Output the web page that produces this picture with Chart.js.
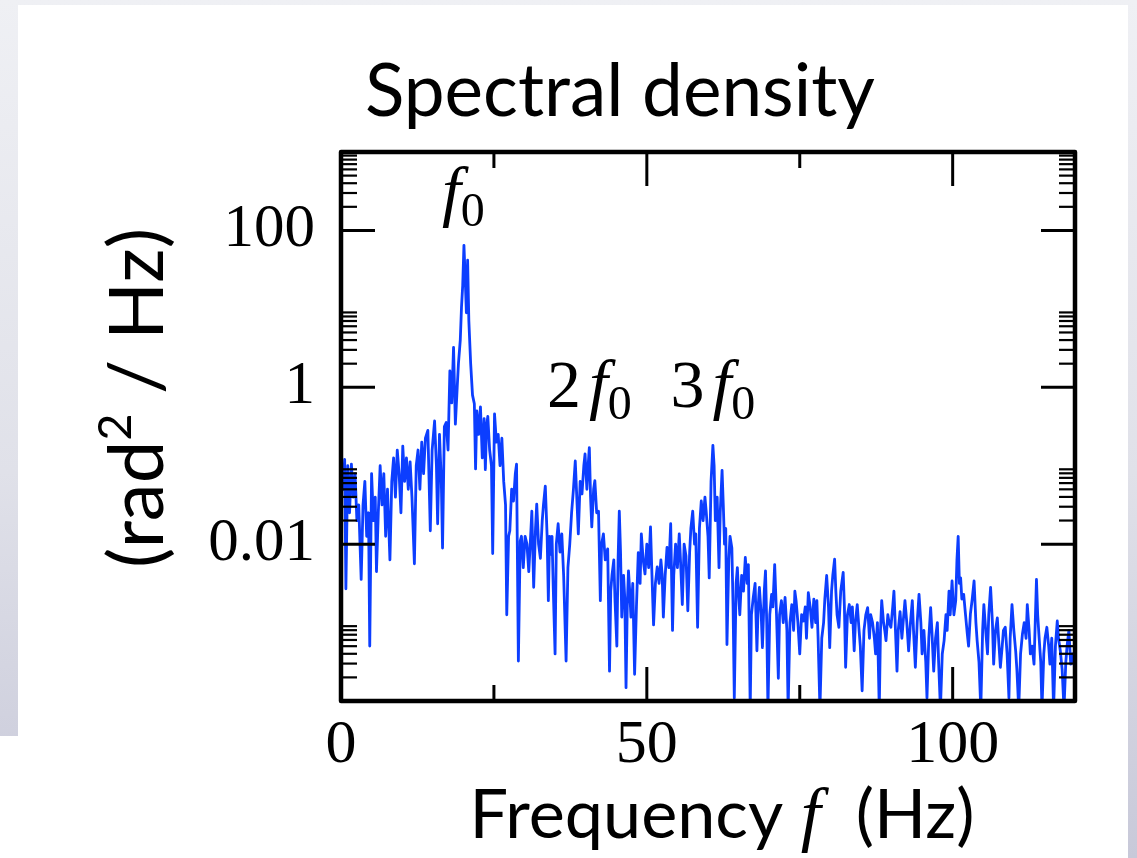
<!DOCTYPE html>
<html>
<head>
<meta charset="utf-8">
<title>Spectral density</title>
<script src="https://cdn.jsdelivr.net/npm/chart.js@4.4.1/dist/chart.umd.min.js"></script>
<style>
  html, body { margin: 0; padding: 0; width: 1137px; height: 858px; overflow: hidden; }
  body { position: relative; background: linear-gradient(to bottom, #eff0f4 0%, #e0e1e9 55%, #c8c9d9 100%); }
  #sheet { position: absolute; left: 18px; top: 5px; width: 1110px; height: 853px; background: #ffffff; }
  #sheetFoot { position: absolute; left: 0; top: 736px; width: 18px; height: 122px; background: #ffffff; }
  #chart { position: absolute; left: 0; top: 0; }
</style>
</head>
<body>
<div id="sheet"></div>
<div id="sheetFoot"></div>
<canvas id="chart" width="1137" height="858"></canvas>
<script>
// Frequency samples (Hz)
const freqHz = [
  0.0, 0.3, 0.6, 0.8, 1.1, 1.4, 1.7, 2.0, 2.3, 2.6,
  2.9, 3.3, 3.6, 3.9, 4.2, 4.5, 4.7, 5.0, 5.3, 5.6,
  5.8, 6.1, 6.4, 6.7, 7.0, 7.3, 7.6, 8.0, 8.3, 8.6,
  8.9, 9.2, 9.5, 9.8, 10.1, 10.4, 10.7, 11.0, 11.3, 11.6,
  12.0, 12.3, 12.6, 12.9, 13.2, 13.5, 13.8, 14.2, 14.6, 14.9,
  15.3, 15.6, 15.8, 16.1, 16.4, 16.6, 16.9, 17.2, 17.5, 17.8,
  18.1, 18.4, 18.7, 19.0, 19.2, 19.5, 19.7, 19.9, 20.1, 20.3,
  20.5, 20.7, 20.9, 21.2, 21.5, 21.8, 22.0, 22.2, 22.5, 22.8,
  23.1, 23.4, 23.6, 23.8, 24.0, 24.3, 24.6, 24.8, 25.1, 25.4,
  25.7, 26.0, 26.3, 26.6, 26.9, 27.1, 27.4, 27.6, 27.9, 28.2,
  28.5, 28.7, 29.0, 29.3, 29.5, 29.8, 30.1, 30.4, 30.7, 31.0,
  31.2, 31.5, 31.8, 32.0, 32.3, 32.6, 32.9, 33.1, 33.4, 33.7,
  33.9, 34.1, 34.3, 34.5, 34.7, 35.0, 35.2, 35.5, 35.8, 36.1,
  36.4, 36.8, 37.1, 37.4, 37.7, 38.0, 38.3, 38.6, 38.8, 39.1,
  39.4, 39.7, 39.9, 40.2, 40.4, 40.6, 40.8, 41.0, 41.3, 41.5,
  41.8, 42.1, 42.4, 42.6, 42.9, 43.2, 43.6, 43.9, 44.1, 44.3,
  44.6, 44.8, 45.1, 45.3, 45.5, 45.7, 45.9, 46.2, 46.4, 46.6,
  46.8, 47.0, 47.2, 47.4, 47.7, 48.0, 48.3, 48.6, 48.9, 49.1,
  49.4, 49.7, 50.0, 50.3, 50.6, 50.8, 51.1, 51.4, 51.7, 52.0,
  52.3, 52.5, 52.7, 53.0, 53.3, 53.6, 53.9, 54.2, 54.4, 54.7,
  55.0, 55.3, 55.5, 55.8, 56.1, 56.4, 56.7, 57.0, 57.2, 57.5,
  57.8, 58.0, 58.3, 58.6, 58.9, 59.2, 59.5, 59.7, 60.0, 60.2,
  60.5, 60.8, 61.0, 61.2, 61.5, 61.8, 62.0, 62.3, 62.5, 62.7,
  62.9, 63.1, 63.4, 63.6, 63.9, 64.1, 64.3, 64.6, 64.8, 65.0,
  65.2, 65.5, 65.8, 66.1, 66.4, 66.6, 66.9, 67.1, 67.4, 67.7,
  68.0, 68.2, 68.4, 68.7, 68.9, 69.2, 69.4, 69.6, 69.8, 70.1,
  70.4, 70.6, 70.9, 71.2, 71.5, 71.7, 72.0, 72.3, 72.6, 72.9,
  73.1, 73.4, 73.7, 74.0, 74.2, 74.4, 74.7, 75.0, 75.3, 75.6,
  75.9, 76.1, 76.4, 76.7, 77.0, 77.3, 77.6, 77.8, 78.0, 78.3,
  78.6, 78.9, 79.1, 79.4, 79.7, 79.9, 80.2, 80.4, 80.7, 80.9,
  81.1, 81.4, 81.7, 82.1, 82.3, 82.5, 82.8, 83.1, 83.4, 83.6,
  83.9, 84.1, 84.4, 84.7, 84.9, 85.2, 85.5, 85.8, 86.1, 86.4,
  86.6, 86.9, 87.2, 87.4, 87.7, 88.0, 88.2, 88.4, 88.7, 88.9,
  89.1, 89.4, 89.6, 89.9, 90.2, 90.4, 90.6, 90.9, 91.1, 91.4,
  91.7, 91.9, 92.2, 92.5, 92.8, 93.1, 93.4, 93.6, 93.9, 94.2,
  94.5, 94.8, 95.0, 95.3, 95.6, 95.8, 96.1, 96.4, 96.6, 96.9,
  97.2, 97.5, 97.7, 98.0, 98.3, 98.6, 98.9, 99.1, 99.4, 99.6,
  99.9, 100.2, 100.5, 100.7, 100.9, 101.1, 101.3, 101.5, 101.8, 102.1,
  102.4, 102.6, 102.9, 103.2, 103.5, 103.8, 104.0, 104.3, 104.6, 104.9,
  105.1, 105.4, 105.7, 105.9, 106.2, 106.5, 106.7, 107.0, 107.3, 107.5,
  107.8, 108.1, 108.3, 108.6, 108.9, 109.2, 109.4, 109.7, 110.0, 110.3,
  110.5, 110.8, 111.1, 111.4, 111.7, 112.0, 112.2, 112.5, 112.7, 113.0,
  113.3, 113.5, 113.7, 113.9, 114.1, 114.4, 114.6, 114.9, 115.1, 115.4,
  115.7, 115.9, 116.2, 116.5, 116.8, 117.1, 117.3, 117.6, 117.9, 118.2,
  118.5, 118.7, 119.0, 119.3, 119.6, 120.0
];

// Spectral density, given as log10 of the value in rad^2/Hz (one entry per frequency)
const log10Psd = [
  -0.95, -1.3, -0.92, -2.57, -1.0, -1.6, -0.98, -1.4, -1.1, -1.7,
  -1.5, -2.45, -1.5, -1.2, -1.9, -1.6, -3.3, -1.1, -1.7, -1.4,
  -2.35, -1.6, -1.0, -1.5, -1.1, -1.9, -1.3, -2.2, -1.2, -0.9,
  -1.4, -0.8, -1.1, -1.6, -0.75, -1.2, -0.9, -1.3, -0.95, -1.4,
  -2.25, -1.0, -0.8, -1.3, -0.7, -1.1, -0.65, -0.55, -1.83, -0.8,
  -0.43, -1.0, -1.74, -0.6, -1.2, -2.05, -0.5, -0.45, -0.8, 0.21,
  -0.2, 0.51, -0.47, 0.0, 0.3, 0.6, 1.02, 1.3, 1.81, 1.4,
  0.95, 1.62, 0.85, 0.3, -0.1, -0.21, -1.04, -0.3, -0.6, -0.25,
  -0.9, -0.4, -1.05, -0.5, -0.37, -0.8, -1.0, -2.12, -0.34, -0.7,
  -0.6, -1.0, -0.65, -1.2, -1.5, -2.9, -1.9, -1.83, -1.3, -1.45,
  -1.1, -0.98, -3.49, -1.96, -1.9, -2.3, -1.9, -2.0, -2.35, -1.9,
  -1.58, -2.55, -1.8, -1.49, -2.0, -2.18, -1.7, -1.5, -1.26, -1.9,
  -2.72, -1.9, -2.13, -1.9, -2.56, -3.4, -2.0, -1.74, -2.1, -1.87,
  -2.4, -3.49, -2.3, -2.0, -1.6, -1.3, -0.94, -1.5, -1.87, -1.2,
  -1.36, -1.0, -0.85, -1.3, -1.0, -0.77, -1.4, -1.78, -1.3, -1.19,
  -1.6, -1.58, -2.72, -2.0, -1.87, -2.2, -2.06, -3.62, -2.6, -2.4,
  -2.2, -2.72, -3.3, -2.2, -1.58, -2.1, -2.93, -2.4, -2.7, -3.83,
  -2.8, -2.34, -2.6, -2.93, -2.5, -3.66, -2.8, -2.11, -2.5, -1.87,
  -2.2, -2.38, -2.0, -2.3, -1.78, -2.3, -3.03, -2.5, -2.29, -2.5,
  -2.2, -2.38, -2.93, -2.4, -2.04, -2.3, -1.74, -3.1, -2.4, -2.0,
  -2.3, -1.87, -2.2, -2.77, -2.0, -2.15, -2.85, -2.1, -1.8, -1.58,
  -2.0, -1.87, -3.06, -1.8, -1.45, -1.7, -1.4, -1.58, -1.9, -2.43,
  -1.2, -0.74, -1.0, -1.7, -1.4, -2.3, -1.6, -1.06, -1.5, -2.0,
  -1.8, -3.28, -2.2, -1.9, -2.05, -2.8, -3.96, -2.5, -2.3, -2.64,
  -2.9, -2.4, -2.6, -2.17, -2.5, -2.26, -4.1, -2.9, -2.68, -2.5,
  -3.36, -2.8, -2.55, -2.9, -3.32, -2.6, -2.34, -3.0, -4.1, -2.9,
  -2.64, -2.8, -2.26, -2.9, -3.71, -2.9, -2.72, -3.0, -2.68, -3.1,
  -4.1, -3.0, -2.77, -3.1, -2.6, -2.72, -3.0, -3.4, -2.9, -2.98,
  -2.8, -3.2, -2.62, -2.8, -3.06, -2.7, -3.0, -2.72, -3.2, -4.1,
  -3.2, -3.0, -2.7, -2.4, -2.8, -3.32, -2.6, -2.4, -2.19, -2.6,
  -2.9, -3.06, -2.6, -2.36, -2.8, -3.57, -2.9, -2.77, -3.0, -2.8,
  -3.36, -3.0, -2.77, -3.1, -3.3, -3.87, -3.1, -2.9, -2.81, -3.2,
  -2.9, -3.0, -3.2, -3.4, -3.0, -4.1, -3.1, -2.72, -3.0, -3.1,
  -3.23, -2.9, -3.0, -3.06, -2.8, -2.6, -3.0, -3.62, -3.1, -2.86,
  -3.2, -3.0, -2.72, -3.0, -3.36, -3.0, -2.72, -3.1, -3.57, -3.0,
  -2.64, -3.0, -3.4, -3.1, -3.5, -3.96, -3.2, -2.81, -3.1, -3.62,
  -3.2, -3.0, -3.5, -4.1, -3.4, -3.23, -2.9, -3.1, -2.6, -2.9,
  -2.47, -2.9, -2.72, -2.2, -1.9, -2.5, -2.43, -2.7, -2.64, -2.9,
  -3.15, -3.3, -2.89, -2.7, -2.47, -3.0, -3.23, -3.5, -4.1, -3.1,
  -2.77, -3.1, -3.4, -2.9, -2.55, -3.0, -3.53, -3.1, -2.94, -3.2,
  -3.57, -3.3, -3.1, -3.06, -3.4, -3.96, -3.2, -2.77, -3.1, -3.36,
  -3.6, -4.1, -3.4, -3.15, -3.0, -3.2, -2.77, -3.1, -3.4, -3.3,
  -3.53, -3.0, -2.45, -2.9, -3.15, -3.5, -4.1, -3.4, -3.2, -3.06,
  -3.3, -3.53, -3.2, -4.1, -3.3, -2.98, -3.2, -3.36, -3.6, -4.1,
  -3.5, -3.3, -3.1, -3.53, -3.4, -3.6
];

// Axis ranges and ticks
const xRange = [0, 120];
const yRange = [1e-4, 1e3];
const xMajorTicks = [0, 50, 100];
const xTickLabels = ['0', '50', '100'];
const xMinorTicks = [25, 75];
const yMajorTicks = [0.01, 1, 100];
const yTickLabels = ['0.01', '1', '100'];
const yMinorDecades = [1e-4, 1e-2, 1, 100];   // decades that carry 2..9 minor marks

// Harmonic annotations: [multiplier text, frequency]
const harmonicLabels = [['', 20], ['2', 40.6], ['3', 60.8]];

const SANS = 'Lato, "Open Sans", sans-serif';
const SERIF = '"Liberation Serif", "DejaVu Serif", serif';
const LINE_BLUE = 'rgb(12, 62, 255)';

const points = freqHz.map((f, i) => ({ x: f, y: Math.pow(10, log10Psd[i]) }));

// Draw a row of text runs fitted to a given total width, centred on cx
function drawRuns(ctx, runs, cx, baseline, targetWidth) {
  const ref = 100;
  const fontFor = (r, size) => (r.italic ? 'italic ' : '') + (size * (r.scale || 1)).toFixed(2) + 'px ' + r.family;
  let w = 0;
  runs.forEach(r => { ctx.font = fontFor(r, ref); w += ctx.measureText(r.t).width; });
  const size = ref * targetWidth / w;
  let x = cx - targetWidth / 2;
  ctx.textAlign = 'left';
  ctx.textBaseline = 'alphabetic';
  runs.forEach(r => {
    ctx.font = fontFor(r, size);
    ctx.fillText(r.t, x, baseline + (r.dy || 0) * size);
    x += ctx.measureText(r.t).width;
  });
}

const framePlugin = {
  id: 'frameTicks',
  afterDatasetsDraw(chart) {
    const { ctx, chartArea: a, scales: { x, y } } = chart;
    ctx.save();
    ctx.strokeStyle = '#000';
    ctx.lineCap = 'butt';
    const seg = (x1, y1, x2, y2, w) => {
      ctx.lineWidth = w;
      ctx.beginPath(); ctx.moveTo(x1, y1); ctx.lineTo(x2, y2); ctx.stroke();
    };
    const MAJ = 34, MIN = 16;
    xMajorTicks.forEach(v => {
      const px = x.getPixelForValue(v);
      seg(px, a.top, px, a.top + MAJ, 3);
      seg(px, a.bottom, px, a.bottom - MAJ, 3);
    });
    xMinorTicks.forEach(v => {
      const px = x.getPixelForValue(v);
      seg(px, a.top, px, a.top + MIN, 3);
      seg(px, a.bottom, px, a.bottom - MIN, 3);
    });
    yMajorTicks.forEach(v => {
      const py = y.getPixelForValue(v);
      seg(a.left, py, a.left + MAJ, py, 3);
      seg(a.right, py, a.right - MAJ, py, 3);
    });
    yMinorDecades.forEach(d => {
      for (let m = 2; m <= 9; m++) {
        const py = y.getPixelForValue(m * d);
        seg(a.left, py, a.left + MIN, py, 2.2);
        seg(a.right, py, a.right - MIN, py, 2.2);
      }
    });
    ctx.lineWidth = 4.5;
    ctx.lineJoin = 'round';
    ctx.strokeRect(a.left, a.top, a.right - a.left, a.bottom - a.top);
    ctx.restore();
  }
};

const textPlugin = {
  id: 'textLayer',
  afterDraw(chart) {
    const { ctx, scales: { x } } = chart;
    ctx.save();
    ctx.fillStyle = '#000';

    // Slide heading
    drawRuns(ctx, [{ t: 'Spectral density', family: SANS }], 620, 116, 510);

    // Horizontal axis title
    drawRuns(ctx, [
      { t: 'Frequency ', family: SANS },
      { t: 'f', family: SERIF, italic: true, scale: 1.05 },
      { t: '  (Hz)', family: SANS }
    ], 722, 838, 505);

    // Vertical axis title
    ctx.save();
    ctx.translate(163, 398);
    ctx.rotate(-Math.PI / 2);
    drawRuns(ctx, [
      { t: '(rad', family: SANS },
      { t: '2', family: SANS, scale: 0.62, dy: -0.42 },
      { t: ' / Hz)', family: SANS }
    ], 0, 0, 340);
    ctx.restore();

    // Harmonic labels f0, 2f0, 3f0
    ctx.textAlign = 'left';
    ctx.textBaseline = 'alphabetic';
    const placeHarmonic = (mult, freq, baseline) => {
      ctx.font = '68px ' + SERIF;
      const mw = ctx.measureText(mult).width;
      ctx.font = 'italic 68px ' + SERIF;
      const fw = ctx.measureText('f').width;
      ctx.font = '48px ' + SERIF;
      const zw = ctx.measureText('0').width;
      const total = mw + (mult ? 8 : 0) + fw + zw;
      let px = x.getPixelForValue(freq) - total / 2;
      if (mult) {
        ctx.font = '68px ' + SERIF;
        ctx.fillText(mult, px, baseline);
        px += mw + 8;
      }
      ctx.font = 'italic 68px ' + SERIF;
      ctx.fillText('f', px, baseline);
      px += fw;
      ctx.font = '48px ' + SERIF;
      ctx.fillText('0', px, baseline + 12);
    };
    placeHarmonic(harmonicLabels[0][0], harmonicLabels[0][1], 214);
    placeHarmonic(harmonicLabels[1][0], harmonicLabels[1][1], 407);
    placeHarmonic(harmonicLabels[2][0], harmonicLabels[2][1], 407);

    ctx.restore();
  }
};

new Chart(document.getElementById('chart'), {
  type: 'line',
  data: {
    datasets: [{
      data: points,
      borderColor: LINE_BLUE,
      borderWidth: 2.8,
      borderJoinStyle: 'round',
      pointRadius: 0,
      tension: 0,
      fill: false
    }]
  },
  options: {
    responsive: false,
    animation: false,
    devicePixelRatio: 1,
    layout: { padding: { left: 0, right: 62, top: 152, bottom: 0 } },
    plugins: { legend: { display: false }, tooltip: { enabled: false }, title: { display: false } },
    scales: {
      x: {
        type: 'linear',
        min: xRange[0],
        max: xRange[1],
        grid: { display: false, drawTicks: false },
        border: { display: false },
        afterBuildTicks: s => { s.ticks = xMajorTicks.map(v => ({ value: v })); },
        afterFit: s => { s.height = 157; },
        ticks: {
          autoSkip: false,
          maxRotation: 0,
          padding: 8,
          color: '#000',
          font: { family: SERIF, size: 62 },
          callback: v => xTickLabels[xMajorTicks.indexOf(v)] ?? ''
        }
      },
      y: {
        type: 'logarithmic',
        min: yRange[0],
        max: yRange[1],
        grid: { display: false, drawTicks: false },
        border: { display: false },
        afterBuildTicks: s => { s.ticks = yMajorTicks.map(v => ({ value: v })); },
        afterFit: s => { s.width = 341; },
        ticks: {
          autoSkip: false,
          padding: 26,
          color: '#000',
          font: { family: SERIF, size: 61 },
          callback: v => yTickLabels[yMajorTicks.indexOf(v)] ?? ''
        }
      }
    }
  },
  plugins: [framePlugin, textPlugin]
});
</script>
</body>
</html>
